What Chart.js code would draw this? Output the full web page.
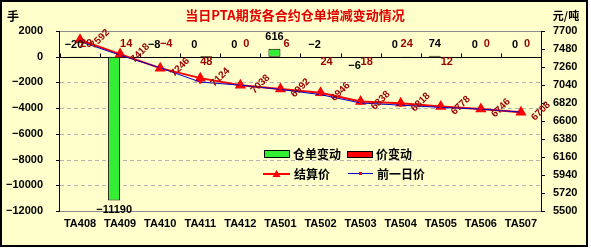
<!DOCTYPE html>
<html>
<head>
<meta charset="utf-8">
<script src="https://cdn.jsdelivr.net/npm/chart.js@4.4.1/dist/chart.umd.min.js"></script>
<style>
  html, body { margin: 0; padding: 0; background: #fff; }
  canvas { display: block; }
</style>
</head>
<body>
<canvas id="warehouse-chart" width="591" height="250"></canvas>
<script>
// data
const contracts = ["TA408", "TA409", "TA410", "TA411", "TA412", "TA501", "TA502", "TA503", "TA504", "TA505", "TA506", "TA507"];
const receiptChange = [-20, -11190, -8, 0, 0, 616, -2, -6, 0, 74, 0, 0];   // 仓单变动 (手)
const priceChange = [20, 14, -4, 48, 0, 6, 24, 18, 24, 12, 0, 0];          // 价变动
const settlePrice = [7592, 7418, 7246, 7124, 7038, 6992, 6946, 6838, 6818, 6778, 6746, 6708]; // 结算价
const prevPrice = [7572, 7404, 7250, 7076, 7038, 6986, 6922, 6820, 6794, 6766, 6746, 6708];   // 前一日价
const seriesNames = ["仓单变动", "价变动", "结算价", "前一日价"];
const titleText = "当日PTA期货各合约仓单增减变动情况";

const numFont = "bold 11px 'Liberation Sans', Arial, sans-serif";
const cjkFont = "'Noto Sans CJK SC', sans-serif";
const darkRed = "#990000";

function minus(v) {
  return String(v).replace("-", "\u2212");
}

const decor = {
  id: "decor",
  beforeDraw(chart) {
    const ctx = chart.ctx;
    ctx.save();
    ctx.fillStyle = "#ffffff";
    ctx.fillRect(0, 0, chart.width, chart.height);
    ctx.fillStyle = "#ffffcc";
    ctx.fillRect(0, 0, 588, 247);
    ctx.strokeStyle = "#000";
    ctx.lineWidth = 2;
    ctx.strokeRect(1, 1, 586, 245);

    // title + units
    ctx.fillStyle = "#e00000";
    ctx.font = "bold 13px " + cjkFont;
    ctx.textAlign = "center";
    ctx.textBaseline = "middle";
    ctx.fillText(titleText, 295, 15);
    ctx.fillStyle = "#000";
    ctx.font = "bold 12px " + cjkFont;
    ctx.fillText("手", 13, 16);
    ctx.font = "bold 11px " + cjkFont;
    ctx.fillText("元/吨", 566, 16);
    ctx.restore();
  },
  beforeDatasetsDraw(chart) {
    const { ctx, chartArea: a, scales } = chart;
    const ys = scales.y;
    ctx.save();
    ctx.lineWidth = 1;
    ys.ticks.forEach((t) => {
      const y = Math.round(ys.getPixelForValue(t.value)) + 0.5;
      ctx.beginPath();
      if (t.value === 0) {
        ctx.setLineDash([]);
        ctx.strokeStyle = "#000";
      } else if (t.value === ys.min || t.value === ys.max) {
        ctx.setLineDash([]);
        ctx.strokeStyle = "#8c8c8c";
      } else {
        ctx.setLineDash([4, 3]);
        ctx.strokeStyle = "#b4b4b4";
      }
      ctx.moveTo(a.left, y);
      ctx.lineTo(a.right, y);
      ctx.stroke();
      // left tick mark
      ctx.setLineDash([]);
      ctx.strokeStyle = "#000";
      ctx.beginPath();
      ctx.moveTo(a.left - 4, y);
      ctx.lineTo(a.left, y);
      ctx.stroke();
    });
    ctx.setLineDash([]);
    ctx.strokeStyle = "#000";
    scales.y1.ticks.forEach((t) => {
      const y = Math.round(scales.y1.getPixelForValue(t.value)) + 0.5;
      ctx.beginPath();
      ctx.moveTo(a.right, y);
      ctx.lineTo(a.right + 4, y);
      ctx.stroke();
    });
    // axis lines
    const lx = Math.round(a.left) - 0.5;
    const rx = Math.round(a.right) + 0.5;
    ctx.beginPath();
    ctx.moveTo(lx, a.top);
    ctx.lineTo(lx, a.bottom);
    ctx.moveTo(rx, a.top);
    ctx.lineTo(rx, a.bottom);
    ctx.stroke();
    // category ticks on the zero line
    const xs = scales.x;
    const half = (xs.getPixelForValue(1) - xs.getPixelForValue(0)) / 2;
    const y0 = Math.round(ys.getPixelForValue(0)) + 0.5;
    ctx.beginPath();
    for (let i = 0; i <= contracts.length; i++) {
      const x = Math.round(xs.getPixelForValue(i) - half) + 0.5;
      ctx.moveTo(x, y0);
      ctx.lineTo(x, y0 - 4);
    }
    ctx.stroke();
    ctx.restore();
  },
  afterDatasetsDraw(chart, args, opts) {
    const ctx = chart.ctx;
    const y0 = chart.scales.y.getPixelForValue(0);
    ctx.save();
    ctx.textAlign = "center";
    ctx.textBaseline = "middle";
    ctx.font = numFont;

    // 仓单变动 labels
    chart.getDatasetMeta(2).data.forEach((bar, i) => {
      const below = opts.receiptBelow.includes(i);
      const y = below ? Math.max(bar.y, y0) + 9 : Math.min(bar.y, y0) - 12;
      ctx.fillStyle = "#000";
      ctx.fillText(minus(receiptChange[i]), bar.x, y);
    });
    // 价变动 labels
    chart.getDatasetMeta(3).data.forEach((bar, i) => {
      const below = opts.priceBelow.includes(i);
      ctx.fillStyle = darkRed;
      ctx.fillText(minus(priceChange[i]), bar.x, below ? y0 + 5 : y0 - 13);
    });
    // 结算价 labels, rotated
    ctx.font = "bold 10px 'Liberation Sans', Arial, sans-serif";
    chart.getDatasetMeta(1).data.forEach((pt, i) => {
      ctx.save();
      ctx.translate(pt.x + 20, pt.y - 1);
      ctx.rotate(-Math.PI / 4);
      ctx.fillStyle = darkRed;
      ctx.fillText(String(settlePrice[i]), 0, 0);
      ctx.restore();
    });

    // legend
    ctx.textAlign = "left";
    ctx.font = "bold 12px " + cjkFont;
    ctx.lineWidth = 1;
    ctx.fillStyle = "#33ee33";
    ctx.fillRect(264, 150, 25, 7);
    ctx.strokeStyle = "#000";
    ctx.strokeRect(264.5, 150.5, 25, 7);
    ctx.fillStyle = "#ff0000";
    ctx.fillRect(347, 151, 25, 6);
    ctx.strokeRect(347.5, 151.5, 25, 6);
    ctx.fillStyle = "#000";
    ctx.fillText(seriesNames[0], 293, 154);
    ctx.fillText(seriesNames[1], 376, 154);
    ctx.fillText(seriesNames[2], 294, 174);
    ctx.fillText(seriesNames[3], 377, 174);

    ctx.strokeStyle = "#ff0000";
    ctx.lineWidth = 2;
    ctx.beginPath();
    ctx.moveTo(263, 174);
    ctx.lineTo(290, 174);
    ctx.stroke();
    ctx.fillStyle = "#ff0000";
    ctx.beginPath();
    ctx.moveTo(276.5, 170);
    ctx.lineTo(280.5, 177);
    ctx.lineTo(272.5, 177);
    ctx.closePath();
    ctx.fill();

    ctx.strokeStyle = "#0000cc";
    ctx.lineWidth = 1;
    ctx.beginPath();
    ctx.moveTo(348, 173.5);
    ctx.lineTo(373, 173.5);
    ctx.stroke();
    ctx.fillStyle = "#ff0000";
    ctx.fillRect(359, 172, 3, 3);
    ctx.restore();
  }
};

new Chart(document.getElementById("warehouse-chart"), {
  data: {
    labels: contracts,
    datasets: [
      {
        type: "line",
        label: seriesNames[3],
        data: prevPrice,
        yAxisID: "y1",
        borderColor: "#0000cc",
        borderWidth: 1,
        pointStyle: "rect",
        pointRadius: 1.5,
        pointBackgroundColor: "#ff0000",
        pointBorderColor: "#ff0000",
        tension: 0,
      },
      {
        type: "line",
        label: seriesNames[2],
        data: settlePrice,
        yAxisID: "y1",
        borderColor: "#ff0000",
        borderWidth: 2,
        pointStyle: "triangle",
        pointRadius: 4.5,
        pointBackgroundColor: "#ff0000",
        pointBorderColor: "#ff0000",
        tension: 0,
      },
      {
        type: "bar",
        label: seriesNames[0],
        data: receiptChange,
        yAxisID: "y",
        backgroundColor: "#33ee33",
        borderColor: "#000",
        borderWidth: 1,
        borderSkipped: false,
        categoryPercentage: 0.6,
        barPercentage: 1,
      },
      {
        type: "bar",
        label: seriesNames[1],
        data: priceChange,
        yAxisID: "y",
        backgroundColor: "#ff0000",
        borderColor: "#000",
        borderWidth: 1,
        borderSkipped: false,
        categoryPercentage: 0.6,
        barPercentage: 1,
      },
    ],
  },
  options: {
    responsive: false,
    animation: false,
    devicePixelRatio: 1,
    layout: { padding: { top: 31, left: 0, right: 0, bottom: 0 } },
    plugins: {
      legend: { display: false },
      title: { display: false },
      tooltip: { enabled: false },
      decor: {
        receiptBelow: [1, 7],
        priceBelow: [3, 6, 7, 9],
      },
    },
    scales: {
      x: {
        grid: { display: false },
        border: { display: false },
        ticks: { color: "#000", font: { family: "'Liberation Sans', Arial", size: 11, weight: "bold" }, padding: -2, maxRotation: 0 },
        afterFit(s) { s.height = 39; },
      },
      y: {
        position: "left",
        min: -12000,
        max: 2000,
        grid: { display: false },
        border: { display: false },
        ticks: {
          stepSize: 2000,
          color: "#000",
          padding: 9,
          font: { family: "'Liberation Sans', Arial", size: 11, weight: "bold" },
          callback: (v) => minus(v),
        },
        afterFit(s) { s.width = 60; },
      },
      y1: {
        position: "right",
        min: 5500,
        max: 7700,
        grid: { display: false },
        border: { display: false },
        ticks: {
          stepSize: 220,
          autoSkip: false,
          color: "#000",
          padding: 4,
          font: { family: "'Liberation Sans', Arial", size: 11, weight: "bold" },
          callback: (v) => String(v),
        },
        afterFit(s) { s.width = 50; },
      },
    },
  },
  plugins: [decor],
});
</script>
</body>
</html>
